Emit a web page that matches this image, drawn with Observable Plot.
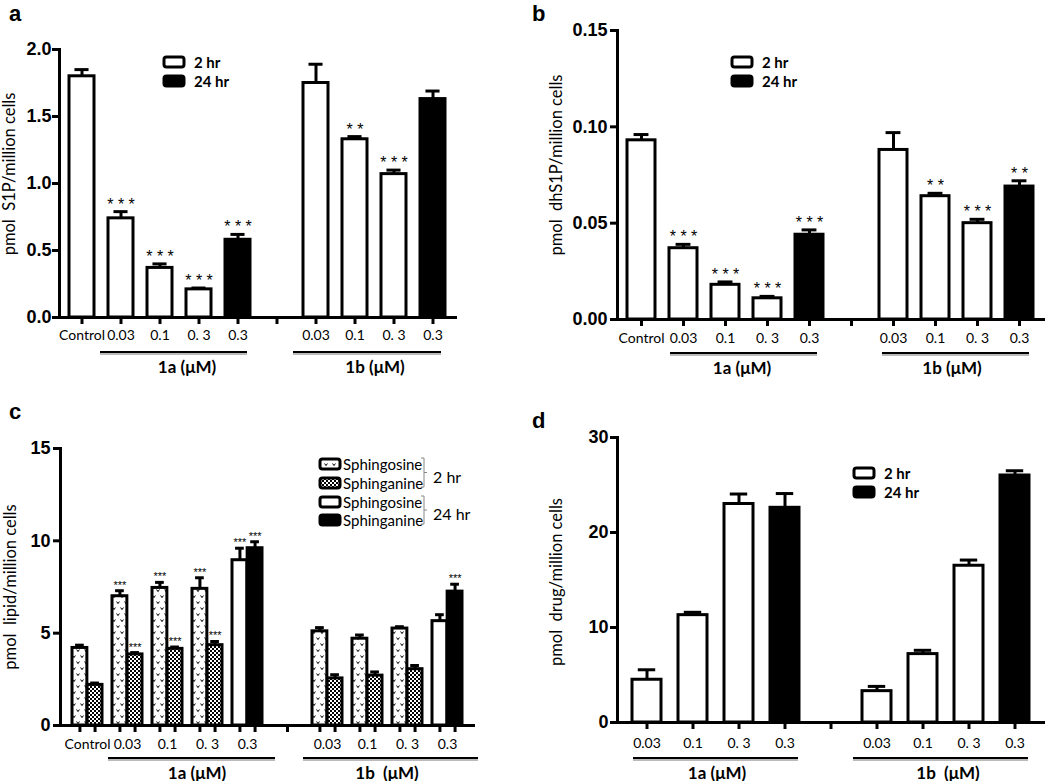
<!DOCTYPE html>
<html><head><meta charset="utf-8">
<script src="https://cdn.jsdelivr.net/npm/d3@7"></script>
<script src="https://cdn.jsdelivr.net/npm/@observablehq/plot@0.6"></script>
<style>
body{margin:0;background:#fff;}
#fig{position:relative;width:1050px;height:781px;overflow:hidden;font-family:Lato,sans-serif;background:#fff;}
.panel{position:absolute;}
.panel svg{max-width:none !important;overflow:visible;}
#overlay{position:absolute;left:0;top:0;pointer-events:none;}
#overlay text{white-space:pre;}
</style></head>
<body><div id="fig">
<svg width="0" height="0" style="position:absolute">
<defs>
<pattern id="pat-v" patternUnits="userSpaceOnUse" width="8" height="12">
<rect width="8" height="12" fill="white"/>
<path d="M0.6,1.5 L2,3.6 L3.4,1.5 M4.6,7.5 L6,9.6 L7.4,7.5" stroke="black" stroke-width="1" fill="none"/>
</pattern>
<pattern id="pat-check" patternUnits="userSpaceOnUse" width="4" height="4">
<rect width="4" height="4" fill="black"/>
<rect width="2" height="2" fill="white"/><rect x="2" y="2" width="2" height="2" fill="white"/>
</pattern>
</defs></svg>
</div>
<script>
// ---------- data ----------
const slotsAll = ["Control","1a-0.03","1a-0.1","1a-0.3","1a-0.3-24h","gap","1b-0.03","1b-0.1","1b-0.3","1b-0.3-24h"];
const tickLabelsAll = ["Control","0.03","0.1","0. 3","0.3","","0.03","0.1","0. 3","0.3"];
const dataSlots = ["Control","1a-0.03","1a-0.1","1a-0.3","1a-0.3-24h","1b-0.03","1b-0.1","1b-0.3","1b-0.3-24h"];
const timepoint = ["2 hr","2 hr","2 hr","2 hr","24 hr","2 hr","2 hr","2 hr","24 hr"];

// a: S1P
const s1pMean = [1.80, 0.74, 0.37, 0.21, 0.58, 1.75, 1.33, 1.07, 1.63];
const s1pSem  = [0.05, 0.05, 0.03, 0.01, 0.04, 0.14, 0.02, 0.03, 0.06];
const s1pStars = ["", "***", "***", "***", "***", "", "**", "***", ""];

// b: dhS1P
const dhs1pMean = [0.093, 0.037, 0.018, 0.011, 0.044, 0.088, 0.064, 0.050, 0.069];
const dhs1pSem  = [0.003, 0.002, 0.0015, 0.001, 0.0025, 0.009, 0.0015, 0.002, 0.003];
const dhs1pStars = ["", "***", "***", "***", "***", "", "**", "***", "**"];

// c: sphingosine / sphinganine
const sphingosineMean = [4.2, 7.0, 7.45, 7.4, 8.95, 5.1, 4.7, 5.25, 5.65];
const sphingosineSem  = [0.15, 0.3, 0.3, 0.6, 0.65, 0.2, 0.2, 0.1, 0.35];
const sphingosineStars = ["", "***", "***", "***", "***", "", "", "", ""];
const sphinganineMean = [2.2, 3.85, 4.15, 4.35, 9.6, 2.55, 2.7, 3.05, 7.25];
const sphinganineSem  = [0.1, 0.1, 0.1, 0.2, 0.35, 0.2, 0.2, 0.2, 0.4];
const sphinganineStars = ["", "***", "***", "***", "***", "", "", "", "***"];

// d: drug uptake
const drugSlots = dataSlots.slice(1);
const drugTime = timepoint.slice(1);
const drugMean = [4.5, 11.3, 23.0, 22.6, 3.3, 7.2, 16.5, 26.0];
const drugSem  = [1.05, 0.3, 1.05, 1.5, 0.5, 0.4, 0.6, 0.5];

// ---------- helpers ----------
const fig = document.getElementById("fig");
function mount(svg, left, top) {
  const div = document.createElement("div");
  div.className = "panel";
  div.style.left = left + "px"; div.style.top = top + "px";
  div.appendChild(svg);
  fig.appendChild(div);
}
const baseStyle = {background: "transparent", fontFamily: "Lato, sans-serif", fontSize: "14px", overflow: "visible"};
const errTop = d => d.mean + d.sem;
const starText = d => d.stars.split("").join(" ");
const yAxisFont = {fontSize: 18, fontWeight: "bold", fontFamily: "Liberation Sans, Arial, sans-serif", fill: "black"};
const xAxisFont = {fontSize: 14, fontFamily: "Lato, sans-serif", fill: "black"};

function simplePanel(o) {
  const {rows, slots, labels, left, top, width, height, mL, mR, mT, mB, pi, po, yMax, yTicks, yFmt, tickPad, labelOff, capW} = o;
  const xs = d3.scaleBand().domain(slots).range([mL, width - mR]).paddingInner(pi).paddingOuter(po);
  const bw = xs.bandwidth();
  const capInset = (bw - capW) / 2;
  const svg = Plot.plot({
    width, height, marginLeft: mL, marginRight: mR, marginTop: mT, marginBottom: mB,
    style: baseStyle,
    x: {type: "band", domain: slots, paddingInner: pi, paddingOuter: po},
    y: {domain: [0, yMax]},
    marks: [
      Plot.barY(rows.filter(d => d.time === "2 hr"), {x: "slot", y1: 0, y2: "mean", fill: "white", stroke: "black", strokeWidth: 3}),
      Plot.barY(rows.filter(d => d.time === "24 hr"), {x: "slot", y1: 0, y2: "mean", fill: "black", stroke: "black", strokeWidth: 3}),
      Plot.ruleX(rows, {x: "slot", y1: "mean", y2: errTop, stroke: "black", strokeWidth: 3}),
      Plot.tickY(rows, {x: "slot", y: errTop, stroke: "black", strokeWidth: 3, insetLeft: capInset, insetRight: capInset}),
      Plot.text(rows.filter(d => d.stars), {x: "slot", y: errTop, text: starText, lineAnchor: "bottom", dy: -2,
        fontSize: 16, fontFamily: "Liberation Sans, Arial, sans-serif", fill: "black"}),
      Plot.axisX({tickSize: 7, tickPadding: labelOff - 7, tickFormat: d => labels[slots.indexOf(d)], strokeWidth: 3, label: null, ...xAxisFont}),
      Plot.axisY({ticks: yTicks, tickFormat: yFmt, tickSize: 7, tickPadding: tickPad, strokeWidth: 3, label: null, ...yAxisFont}),
      Plot.frame({anchor: "left", strokeWidth: 3}),
      Plot.frame({anchor: "bottom", strokeWidth: 3})
    ]
  });
  mount(svg, left, top);
}

// ---------- panel a ----------
simplePanel({
  rows: dataSlots.map((slot, i) => ({slot, time: timepoint[i], mean: s1pMean[i], sem: s1pSem[i], stars: s1pStars[i]})),
  slots: slotsAll, labels: tickLabelsAll,
  left: 0, top: 0, width: 525, height: 390, mL: 59, mR: 70, mT: 49, mB: 73,
  pi: 0.37, po: 0.19, yMax: 2.0, yTicks: [0, 0.5, 1.0, 1.5, 2.0], yFmt: d3.format(".1f"),
  tickPad: 1, labelOff: 13, capW: 14
});

// ---------- panel b ----------
simplePanel({
  rows: dataSlots.map((slot, i) => ({slot, time: timepoint[i], mean: dhs1pMean[i], sem: dhs1pSem[i], stars: dhs1pStars[i]})),
  slots: slotsAll, labels: tickLabelsAll,
  left: 525, top: 0, width: 525, height: 390, mL: 92, mR: 7, mT: 30, mB: 71,
  pi: 0.34, po: 0.17, yMax: 0.15, yTicks: [0, 0.05, 0.10, 0.15], yFmt: d3.format(".2f"),
  tickPad: 3, labelOff: 14, capW: 15
});

// ---------- panel d ----------
simplePanel({
  rows: drugSlots.map((slot, i) => ({slot, time: drugTime[i], mean: drugMean[i], sem: drugSem[i], stars: ""})),
  slots: slotsAll.slice(1), labels: tickLabelsAll.slice(1),
  left: 525, top: 390, width: 525, height: 391, mL: 92, mR: 7, mT: 47, mB: 59,
  pi: 0.37, po: 0.22, yMax: 30, yTicks: [0, 10, 20, 30], yFmt: d3.format("d"),
  tickPad: 2, labelOff: 16, capW: 18
});

// ---------- panel c ----------
(function () {
  const width = 525, height = 391, mL = 60, mR = 52, mT = 58, mB = 56, pi = 0.25, po = 0.24, yMax = 15;
  const xs = d3.scaleBand().domain(slotsAll).range([mL, width - mR]).paddingInner(pi).paddingOuter(po);
  const bw = xs.bandwidth();
  const half = bw / 2, q = bw / 4, capW = 9;
  const pxPerUnit = (height - mT - mB) / yMax;
  const tickLen = 7 / pxPerUnit;
  const sgo = dataSlots.map((slot, i) => ({slot, time: timepoint[i], mean: sphingosineMean[i], sem: sphingosineSem[i], stars: sphingosineStars[i]}));
  const sga = dataSlots.map((slot, i) => ({slot, time: timepoint[i], mean: sphinganineMean[i], sem: sphinganineSem[i], stars: sphinganineStars[i]}));
  const starOpts = {text: "stars", lineAnchor: "bottom", dy: -2, fontSize: 11, fontFamily: "Liberation Sans, Arial, sans-serif", fill: "black"};
  const svg = Plot.plot({
    width, height, marginLeft: mL, marginRight: mR, marginTop: mT, marginBottom: mB,
    style: baseStyle,
    x: {type: "band", domain: slotsAll, paddingInner: pi, paddingOuter: po},
    y: {domain: [0, yMax]},
    marks: [
      Plot.barY(sgo.filter(d => d.time === "2 hr"), {x: "slot", y1: 0, y2: "mean", fill: "url(#pat-v)", stroke: "black", strokeWidth: 3, insetRight: half}),
      Plot.barY(sgo.filter(d => d.time === "24 hr"), {x: "slot", y1: 0, y2: "mean", fill: "white", stroke: "black", strokeWidth: 3, insetRight: half}),
      Plot.barY(sga.filter(d => d.time === "2 hr"), {x: "slot", y1: 0, y2: "mean", fill: "url(#pat-check)", stroke: "black", strokeWidth: 3, insetLeft: half}),
      Plot.barY(sga.filter(d => d.time === "24 hr"), {x: "slot", y1: 0, y2: "mean", fill: "black", stroke: "black", strokeWidth: 3, insetLeft: half}),
      Plot.ruleX(sgo, {x: "slot", y1: "mean", y2: errTop, dx: -q, stroke: "black", strokeWidth: 3}),
      Plot.ruleX(sga, {x: "slot", y1: "mean", y2: errTop, dx: q, stroke: "black", strokeWidth: 3}),
      Plot.tickY(sgo, {x: "slot", y: errTop, stroke: "black", strokeWidth: 3, insetLeft: q - capW / 2, insetRight: bw - q - capW / 2}),
      Plot.tickY(sga, {x: "slot", y: errTop, stroke: "black", strokeWidth: 3, insetLeft: bw - q - capW / 2, insetRight: q - capW / 2}),
      Plot.text(sgo.filter(d => d.stars), {x: "slot", y: errTop, dx: -q, ...starOpts}),
      Plot.text(sga.filter(d => d.stars), {x: "slot", y: errTop, dx: q, ...starOpts}),
      // x-axis ticks under each bar and at the gap
      Plot.ruleX(dataSlots, {x: d => d, y1: 0, y2: -tickLen, dx: -q, stroke: "black", strokeWidth: 3}),
      Plot.ruleX(dataSlots, {x: d => d, y1: 0, y2: -tickLen, dx: q, stroke: "black", strokeWidth: 3}),
      Plot.ruleX(["gap"], {x: d => d, y1: 0, y2: -tickLen, stroke: "black", strokeWidth: 3}),
      Plot.axisX({tickSize: 0, tickPadding: 14, tickFormat: d => tickLabelsAll[slotsAll.indexOf(d)], label: null, ...xAxisFont}),
      Plot.axisY({ticks: [0, 5, 10, 15], tickFormat: d3.format("d"), tickSize: 7, tickPadding: 3, strokeWidth: 3, label: null, ...yAxisFont}),
      Plot.frame({anchor: "left", strokeWidth: 3}),
      Plot.frame({anchor: "bottom", strokeWidth: 3})
    ]
  });
  mount(svg, 0, 390);
})();

// ---------- annotations: panel letters, axis titles, group bars, legends ----------
const NS = "http://www.w3.org/2000/svg";
let o = "";
const T = (x, y, s, extra) => { o += `<text x="${x}" y="${y}" ${extra || ""}>${s}</text>`; };
// panel letters
const letterAttr = 'font-family="Liberation Sans, Arial, sans-serif" font-weight="bold" font-size="22"';
T(9, 21, "a", letterAttr); T(532, 21, "b", letterAttr); T(9, 419, "c", letterAttr); T(532, 428, "d", letterAttr);
// y-axis titles
const ylab = (x, y, s) => T(0, 0, s, `transform="translate(${x},${y}) rotate(-90)" text-anchor="middle" dominant-baseline="central" font-family="Lato, sans-serif" font-size="16.5"`);
ylab(9, 174, "pmol  S1P/million cells");
ylab(556, 165, "pmol  dhS1P/million cells");
ylab(10, 587, "pmol  lipid/million cells");
ylab(556, 582, "pmol  drug/million cells");
// group bars
const group = (x1, x2, y, lx, label) => {
  o += `<line x1="${x1}" x2="${x2}" y1="${y + 2}" y2="${y + 2}" stroke="#bbb" stroke-width="2"/>`;
  o += `<line x1="${x1}" x2="${x2}" y1="${y}" y2="${y}" stroke="#000" stroke-width="2"/>`;
  T(lx, y + 14, label, 'text-anchor="middle" dominant-baseline="central" font-family="Lato, sans-serif" font-weight="bold" font-size="17"');
};
group(100, 247, 352, 187, "1a (μM)"); group(293, 441, 352, 375, "1b (μM)");
group(670, 817, 353, 742, "1a (μM)"); group(882, 1029, 353, 952, "1b (μM)");
group(108, 275, 758, 197, "1a (μM)"); group(303, 478, 758, 387, "1b  (μM)");
group(633, 798, 758, 717, "1a (μM)"); group(853, 1028, 758, 948, "1b  (μM)");
// legends (2 hr / 24 hr)
const sw = (x, y, fill) => { o += `<rect x="${x}" y="${y - 5}" width="20" height="10" rx="2.5" fill="${fill}" stroke="#000" stroke-width="3"/>`; };
const legendTime = (x, y) => {
  sw(x, y, "white"); sw(x, y + 19, "black");
  T(x + 30, y, "2 hr", 'dominant-baseline="central" font-family="Lato, sans-serif" font-weight="bold" font-size="15"');
  T(x + 30, y + 19, "24 hr", 'dominant-baseline="central" font-family="Lato, sans-serif" font-weight="bold" font-size="15"');
};
legendTime(164, 62); legendTime(732, 62); legendTime(854, 473);
// legend c
const lc = [["url(#pat-v)", "Sphingosine", 464], ["url(#pat-check)", "Sphinganine", 483], ["white", "Sphingosine", 502], ["black", "Sphinganine", 520]];
lc.forEach(([f, s, y]) => { sw(320, y, f); T(343, y, s, 'dominant-baseline="central" font-family="Lato, sans-serif" font-size="15"'); });
o += `<path d="M421,458 h3 v29 h-3 M424,472.5 h3 M421,496 h3 v28 h-3 M424,510 h3" fill="none" stroke="#888" stroke-width="1"/>`;
T(433, 476, "2 hr", 'dominant-baseline="central" font-family="Lato, sans-serif" font-size="16"');
T(433, 513, "24 hr", 'dominant-baseline="central" font-family="Lato, sans-serif" font-size="16"');

const ov = document.createElementNS(NS, "svg");
ov.setAttribute("id", "overlay"); ov.setAttribute("width", 1050); ov.setAttribute("height", 781);
ov.innerHTML = o;
fig.appendChild(ov);
</script>
</body></html>
